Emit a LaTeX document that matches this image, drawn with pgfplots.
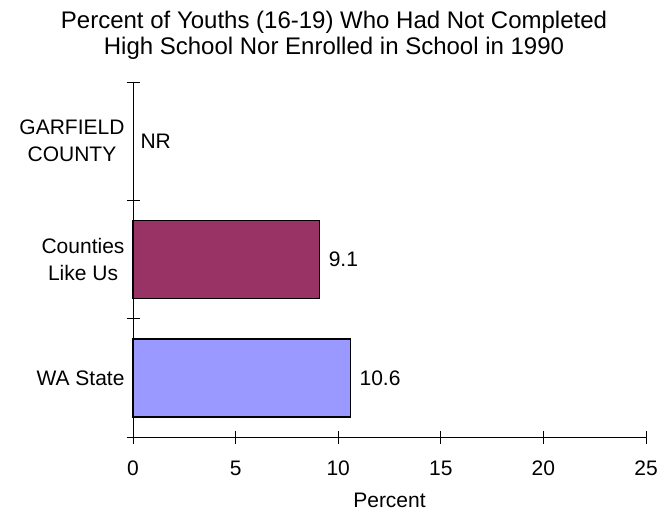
\documentclass[border=0pt]{standalone}
\usepackage{fontspec}
\setmainfont{Liberation Sans}
\usepackage{pgfplots}
\pgfplotsset{compat=1.18}
\definecolor{cpurple}{HTML}{993366}
\definecolor{cblue}{HTML}{9999FF}
\begin{document}
\begin{tikzpicture}
\path[use as bounding box] (0,0) rectangle (660pt,512pt);
\node[anchor=base,font=\fontsize{24}{26}\selectfont] at (334pt,483pt) {Percent of Youths (16-19) Who Had Not Completed};
\node[anchor=base,font=\fontsize{24}{26}\selectfont] at (334pt,457pt) {High School Nor Enrolled in School in 1990};
\begin{axis}[
  at={(133pt,75pt)}, anchor=south west,
  scale only axis, width=513pt, height=355pt,
  xmin=0, xmax=25, ymin=-0.5, ymax=2.5,
  axis x line*=bottom, axis y line*=left,
  axis line style={black, line width=0.8pt},
  xtick={0,5,10,15,20,25},
  ytick={0,1,2},
  yticklabels={WA State, {Counties\\Like Us}, {GARFIELD\\COUNTY}},
  y tick style={draw=none},
  major tick length=13pt,
  tick align=center,
  x tick style={black, line width=0.8pt},
  /pgf/number format/assume math mode=true,
  ticklabel style={font=\fontsize{21}{27}\selectfont},
  yticklabel style={align=center, anchor=east, xshift=8pt},
  xticklabel style={anchor=north, yshift=-14pt},
  xlabel={Percent},
  xlabel style={font=\fontsize{21}{23}\selectfont, yshift=-10pt},
  nodes near coords, point meta=x,
  nodes near coords={\pgfmathprintnumber[fixed, precision=1]{\pgfplotspointmeta}},
  every node near coord/.append style={font=\fontsize{21}{23}\selectfont, anchor=west, xshift=5pt},
  xbar, bar width=0.66, bar shift=0pt,
  clip=false,
]
\addplot[fill=cpurple, draw=black, line width=1.5pt] coordinates {(9.1,1)};
\addplot[fill=cblue, draw=black, line width=1.5pt] coordinates {(10.6,0)};
\node[anchor=west, font=\fontsize{21}{23}\selectfont, xshift=4pt] at (axis cs:0,2) {NR};
\draw[black, line width=0.8pt] ([xshift=-6.5pt]axis cs:0,-0.5) -- ([xshift=6.5pt]axis cs:0,-0.5);
\draw[black, line width=0.8pt] ([xshift=-6.5pt]axis cs:0,0.5) -- ([xshift=6.5pt]axis cs:0,0.5);
\draw[black, line width=0.8pt] ([xshift=-6.5pt]axis cs:0,1.5) -- ([xshift=6.5pt]axis cs:0,1.5);
\draw[black, line width=0.8pt] ([xshift=-6.5pt]axis cs:0,2.5) -- ([xshift=6.5pt]axis cs:0,2.5);
\end{axis}
\end{tikzpicture}
\end{document}
